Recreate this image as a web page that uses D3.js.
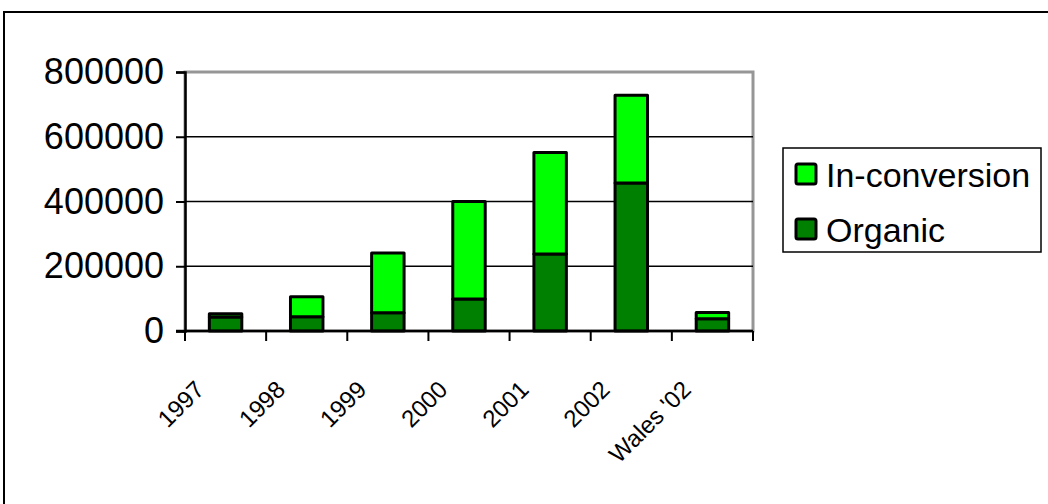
<!DOCTYPE html>
<html>
<head>
<meta charset="utf-8">
<script src="https://cdn.jsdelivr.net/npm/d3@7"></script>
<style>
  body { margin: 0; background: #fff; }
  svg { display: block; font-family: "Liberation Sans", Arial, sans-serif; }
</style>
</head>
<body>
<svg id="chart" width="1048" height="504"></svg>
<script>
// Data
const categories = ["1997", "1998", "1999", "2000", "2001", "2002", "Wales '02"];
const organic = [43000, 44000, 56000, 99000, 238000, 457000, 38000];
const inConversion = [10000, 62000, 185000, 301000, 313000, 271000, 19000];
const yTicks = [0, 200000, 400000, 600000, 800000];
const seriesNames = ["Organic", "In-conversion"];
const seriesColors = ["#008000", "#00ff00"];

const svg = d3.select("#chart");
const width = 1048, height = 504;

// outer frame (extends past right / bottom)
svg.append("rect")
  .attr("x", 4).attr("y", 12)
  .attr("width", 1200).attr("height", 700)
  .attr("fill", "#fff")
  .attr("stroke", "#000")
  .attr("stroke-width", 2);

const plot = { left: 185, right: 753, top: 72, bottom: 331 };

const x = d3.scaleBand()
  .domain(categories)
  .range([plot.left, plot.right])
  .paddingInner(0.6)
  .paddingOuter(0.3);

const y = d3.scaleLinear()
  .domain([0, 800000])
  .range([plot.bottom, plot.top]);

// plot area border (grey)
svg.append("rect")
  .attr("x", plot.left).attr("y", plot.top)
  .attr("width", plot.right - plot.left)
  .attr("height", plot.bottom - plot.top)
  .attr("fill", "none")
  .attr("stroke", "#969696")
  .attr("stroke-width", 3);

// gridlines
svg.append("g")
  .selectAll("line")
  .data(yTicks.filter(d => d > 0 && d < 800000))
  .enter()
  .append("line")
  .attr("x1", plot.left).attr("x2", plot.right)
  .attr("y1", d => y(d)).attr("y2", d => y(d))
  .attr("stroke", "#000")
  .attr("stroke-width", 1.5);

// stacked bars
const table = categories.map((c, i) => ({ cat: c, Organic: organic[i], "In-conversion": inConversion[i] }));
const stack = d3.stack().keys(seriesNames)(table);

svg.append("g")
  .selectAll("g")
  .data(stack)
  .enter()
  .append("g")
  .attr("fill", (d, i) => seriesColors[i])
  .selectAll("rect")
  .data(d => d)
  .enter()
  .append("rect")
  .attr("x", d => x(d.data.cat))
  .attr("width", x.bandwidth())
  .attr("y", d => y(d[1]))
  .attr("height", d => y(d[0]) - y(d[1]))
  .attr("stroke", "#000")
  .attr("stroke-width", 3)
  .attr("stroke-linejoin", "round");

// Y axis
const yAxis = svg.append("g")
  .attr("transform", `translate(${plot.left},0)`)
  .call(d3.axisLeft(y).tickValues(yTicks).tickFormat(d => d).tickSize(9).tickPadding(12));
yAxis.select(".domain").attr("stroke", "#000").attr("stroke-width", 2.5);
yAxis.selectAll(".tick line").attr("stroke", "#000").attr("stroke-width", 2);
yAxis.selectAll(".tick text")
  .attr("font-size", 36)
  .attr("font-family", "Liberation Sans, Arial, sans-serif")
  .attr("fill", "#000");

// X axis line + boundary ticks
const xg = svg.append("g");
xg.append("line")
  .attr("x1", plot.left - 9).attr("x2", plot.right)
  .attr("y1", plot.bottom).attr("y2", plot.bottom)
  .attr("stroke", "#000").attr("stroke-width", 2.5);

const gap = (x.step() - x.bandwidth()) / 2;
const bounds = categories.map(c => x(c) - gap).concat([plot.right]);
xg.selectAll("line.tk")
  .data(bounds)
  .enter()
  .append("line")
  .attr("class", "tk")
  .attr("x1", d => d).attr("x2", d => d)
  .attr("y1", plot.bottom).attr("y2", plot.bottom + 10)
  .attr("stroke", "#000").attr("stroke-width", 2);

// rotated category labels, end of text under the category
xg.selectAll("text")
  .data(categories)
  .enter()
  .append("text")
  .attr("transform", d => `translate(${x(d) + x.bandwidth() / 2 - 20},${plot.bottom + 60}) rotate(-45)`)
  .attr("text-anchor", "end")
  .attr("font-size", 24)
  .attr("fill", "#000")
  .text(d => d);

// Legend
const legend = svg.append("g");
legend.append("rect")
  .attr("x", 783).attr("y", 148)
  .attr("width", 258).attr("height", 104)
  .attr("fill", "#fff")
  .attr("stroke", "#000")
  .attr("stroke-width", 1.5);

const legendItems = ["In-conversion", "Organic"];
const legendRow = legend.selectAll("g.item")
  .data(legendItems)
  .enter()
  .append("g")
  .attr("class", "item")
  .attr("transform", (d, i) => `translate(796,${164 + i * 55})`);

legendRow.append("rect")
  .attr("width", 20).attr("height", 20)
  .attr("rx", 2)
  .attr("fill", d => seriesColors[seriesNames.indexOf(d)])
  .attr("stroke", "#000")
  .attr("stroke-width", 3);

legendRow.append("text")
  .attr("x", 30).attr("y", 23)
  .attr("font-size", 34)
  .attr("fill", "#000")
  .text(d => d);
</script>
</body>
</html>
